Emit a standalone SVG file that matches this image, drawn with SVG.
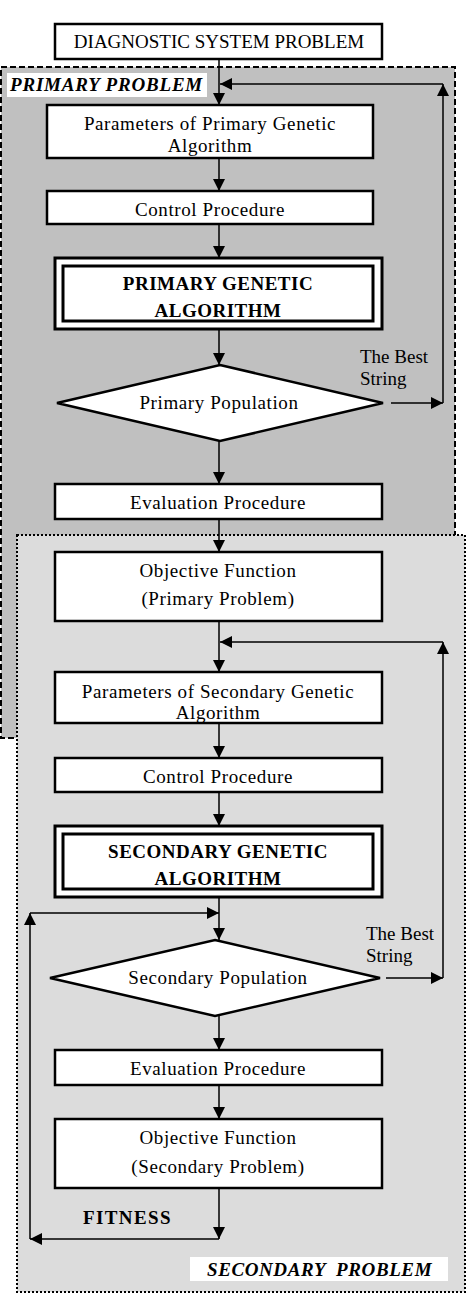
<svg xmlns="http://www.w3.org/2000/svg" width="468" height="1298" viewBox="0 0 468 1298">
<style>
.t{font-family:"Liberation Serif","Times New Roman",serif;font-size:19px;fill:#000;text-anchor:middle;letter-spacing:0.6px}
.b{font-weight:bold;letter-spacing:0.5px}
.lbl{font-family:"Liberation Serif","Times New Roman",serif;font-size:19px;font-weight:bold;font-style:italic;fill:#000}
.box{fill:#fff;stroke:#000;stroke-width:2.5}
.dbl{fill:#fff;stroke:#000;stroke-width:3}
.c{fill:none;stroke:#000;stroke-width:1.5}
</style>
<defs>
<marker id="ah" markerUnits="userSpaceOnUse" markerWidth="12" markerHeight="12" viewBox="0 0 12 12" refX="12" refY="6" orient="auto">
<path d="M0,0 L12,6 L0,12 z" fill="#000"/>
</marker>
</defs>
<g id="primary-region">
<rect x="1" y="67" width="454" height="671" fill="#c0c0c0" stroke="#000" stroke-width="2" stroke-dasharray="6,3"/>
<rect x="7" y="73" width="200" height="24" fill="#fff"/>
<text class="lbl" x="10" y="91" style="letter-spacing:0.8px">PRIMARY PROBLEM</text>
</g>
<g id="secondary-region">
<rect x="17" y="535" width="448" height="757" fill="#dcdcdc" stroke="#000" stroke-width="2" stroke-dasharray="2,2"/>
<rect x="190" y="1257" width="258" height="24" fill="#fff"/>
<text class="lbl" x="207" y="1276" xml:space="preserve" style="letter-spacing:0.6px">SECONDARY  PROBLEM</text>
</g>
<g id="diagnostic">
<rect class="box" x="55" y="24" width="327" height="35"/>
<text class="t" x="219" y="48" style="letter-spacing:0">DIAGNOSTIC SYSTEM PROBLEM</text>
</g>
<g id="params1">
<rect class="box" x="47" y="105" width="326" height="53"/>
<text class="t" x="210" y="130">Parameters of Primary Genetic</text>
<text class="t" x="210" y="152">Algorithm</text>
</g>
<g id="control1">
<rect class="box" x="47" y="191" width="326" height="33"/>
<text class="t" x="210" y="216">Control Procedure</text>
</g>
<g id="pga">
<rect class="dbl" x="55" y="258" width="327" height="71"/>
<rect class="dbl" x="63" y="266" width="310" height="55"/>
<text class="t b" x="218" y="290">PRIMARY GENETIC</text>
<text class="t b" x="218" y="317">ALGORITHM</text>
</g>
<g id="ppop">
<polygon points="220,365 383,403 220,441 57,403" fill="#fff" stroke="#000" stroke-width="2.5"/>
<text class="t" x="219" y="409">Primary Population</text>
</g>
<g id="best1">
<text class="t" x="360" y="363" style="text-anchor:start;letter-spacing:0">The Best</text>
<text class="t" x="360" y="385" style="text-anchor:start;letter-spacing:0">String</text>
</g>
<g id="eval1">
<rect class="box" x="55" y="484" width="327" height="35"/>
<text class="t" x="218" y="509">Evaluation Procedure</text>
</g>
<g id="obj1">
<rect class="box" x="55" y="552" width="327" height="69"/>
<text class="t" x="218" y="577">Objective Function</text>
<text class="t" x="218" y="605">(Primary Problem)</text>
</g>
<g id="params2">
<rect class="box" x="55" y="672" width="327" height="51"/>
<text class="t" x="218" y="698">Parameters of Secondary Genetic</text>
<text class="t" x="218" y="719">Algorithm</text>
</g>
<g id="control2">
<rect class="box" x="55" y="758" width="327" height="34"/>
<text class="t" x="218" y="783">Control Procedure</text>
</g>
<g id="sga">
<rect class="dbl" x="55" y="826" width="327" height="71"/>
<rect class="dbl" x="63" y="834" width="310" height="55"/>
<text class="t b" x="218" y="858">SECONDARY GENETIC</text>
<text class="t b" x="218" y="885">ALGORITHM</text>
</g>
<g id="spop">
<polygon points="215,940 380,978 215,1016 50,978" fill="#fff" stroke="#000" stroke-width="2.5"/>
<text class="t" x="218" y="984">Secondary Population</text>
</g>
<g id="best2">
<text class="t" x="366" y="940" style="text-anchor:start;letter-spacing:0">The Best</text>
<text class="t" x="366" y="962" style="text-anchor:start;letter-spacing:0">String</text>
</g>
<g id="eval2">
<rect class="box" x="55" y="1050" width="327" height="35"/>
<text class="t" x="218" y="1075">Evaluation Procedure</text>
</g>
<g id="obj2">
<rect class="box" x="55" y="1119" width="327" height="69"/>
<text class="t" x="218" y="1144">Objective Function</text>
<text class="t" x="218" y="1173">(Secondary Problem)</text>
</g>
<g id="fitness">
<text class="t b" x="83" y="1224" style="text-anchor:start;letter-spacing:1.4px">FITNESS</text>
</g>
<g id="connectors">
<path class="c" d="M219,59 V105" marker-end="url(#ah)"/>
<path class="c" d="M219,158 V191" marker-end="url(#ah)"/>
<path class="c" d="M219,224 V258" marker-end="url(#ah)"/>
<path class="c" d="M219,329 V365" marker-end="url(#ah)"/>
<path class="c" d="M219,441 V484" marker-end="url(#ah)"/>
<path class="c" d="M219,519 V552" marker-end="url(#ah)"/>
<path class="c" d="M219,621 V672" marker-end="url(#ah)"/>
<path class="c" d="M219,723 V758" marker-end="url(#ah)"/>
<path class="c" d="M219,792 V826" marker-end="url(#ah)"/>
<path class="c" d="M219,897 V940" marker-end="url(#ah)"/>
<path class="c" d="M219,1016 V1050" marker-end="url(#ah)"/>
<path class="c" d="M219,1085 V1119" marker-end="url(#ah)"/>
<path class="c" d="M219,1188 V1239" marker-end="url(#ah)"/>
<path class="c" d="M391,403 H443" marker-end="url(#ah)"/>
<path class="c" d="M443,403 V84" marker-end="url(#ah)"/>
<path class="c" d="M443,84 H220" marker-end="url(#ah)"/>
<path class="c" d="M386,978 H443" marker-end="url(#ah)"/>
<path class="c" d="M443,978 V642" marker-end="url(#ah)"/>
<path class="c" d="M443,642 H220" marker-end="url(#ah)"/>
<path class="c" d="M219,1239 H30" marker-end="url(#ah)"/>
<path class="c" d="M30,1239 V913" marker-end="url(#ah)"/>
<path class="c" d="M30,913 H219" marker-end="url(#ah)"/>
</g>
</svg>
